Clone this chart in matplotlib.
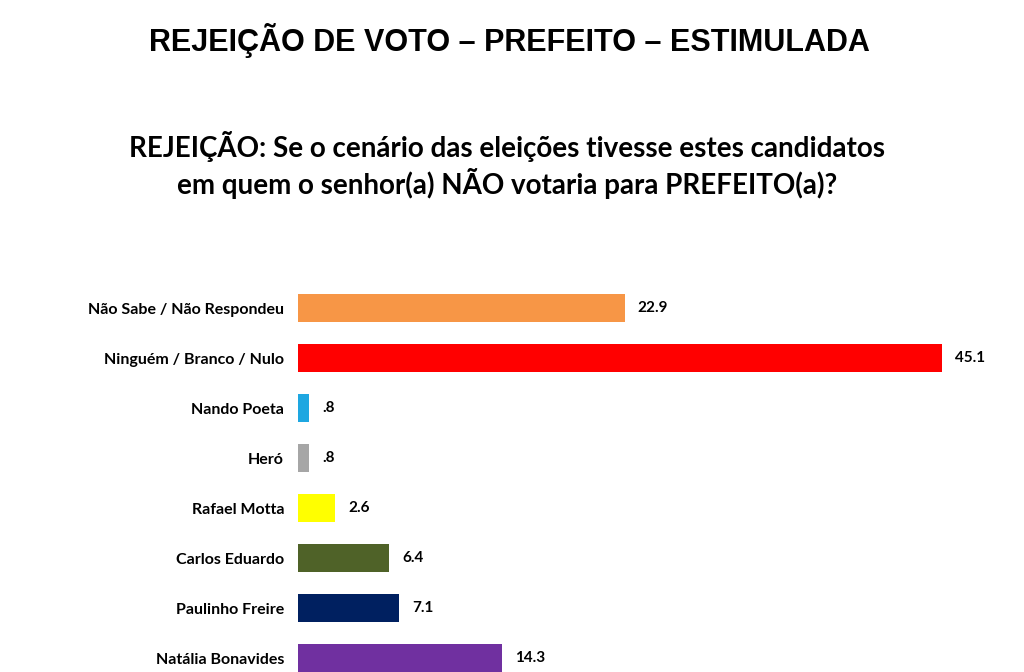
import matplotlib
matplotlib.use('Agg')
from matplotlib import pyplot as plt

categories = ['Não Sabe / Não Respondeu', 'Ninguém / Branco / Nulo', 'Nando Poeta', 'Heró',
              'Rafael Motta', 'Carlos Eduardo', 'Paulinho Freire', 'Natália Bonavides']
values = [22.9, 45.1, 0.8, 0.8, 2.6, 6.4, 7.1, 14.3]
value_labels = ['22.9', '45.1', '.8', '.8', '2.6', '6.4', '7.1', '14.3']
colors = ['#F79646', '#FF0000', '#1EA7E1', '#A6A6A6', '#FFFF00', '#4F6228', '#002060', '#7030A0']

W, H = 1024, 672
fig = plt.figure(figsize=(W / 100, H / 100), dpi=100)
fig.patch.set_facecolor('white')

fig.text(509 / W, 1 - 40 / H, 'REJEIÇÃO DE VOTO – PREFEITO – ESTIMULADA',
         ha='center', va='center', fontsize=22, fontweight='bold', family='Liberation Sans')
fig.text(507 / W, 1 - 165 / H,
         'REJEIÇÃO: Se o cenário das eleições tivesse estes candidatos\nem quem o senhor(a) NÃO votaria para PREFEITO(a)?',
         ha='center', va='center', fontsize=20, fontweight='bold', family='Lato', linespacing=1.2)

ax = fig.add_axes([298 / W, (H - 683) / H, 714 / W, 400 / H])
ax.barh(range(len(values)), values, height=0.56, color=colors)
ax.set_xlim(0, 50)
ax.set_ylim(7.5, -0.5)
ax.set_yticks(range(len(categories)))
ax.set_yticklabels(categories, fontsize=11.5, fontweight='bold', family='Lato')
ax.tick_params(axis='y', length=0, pad=10)
ax.set_xticks([])
for s in ax.spines.values():
    s.set_visible(False)
for i, (v, t) in enumerate(zip(values, value_labels)):
    ax.text(v + 0.9, i, t, va='center', ha='left', fontsize=11, fontweight='bold', family='Lato')

fig.savefig('out.png', dpi=100)
